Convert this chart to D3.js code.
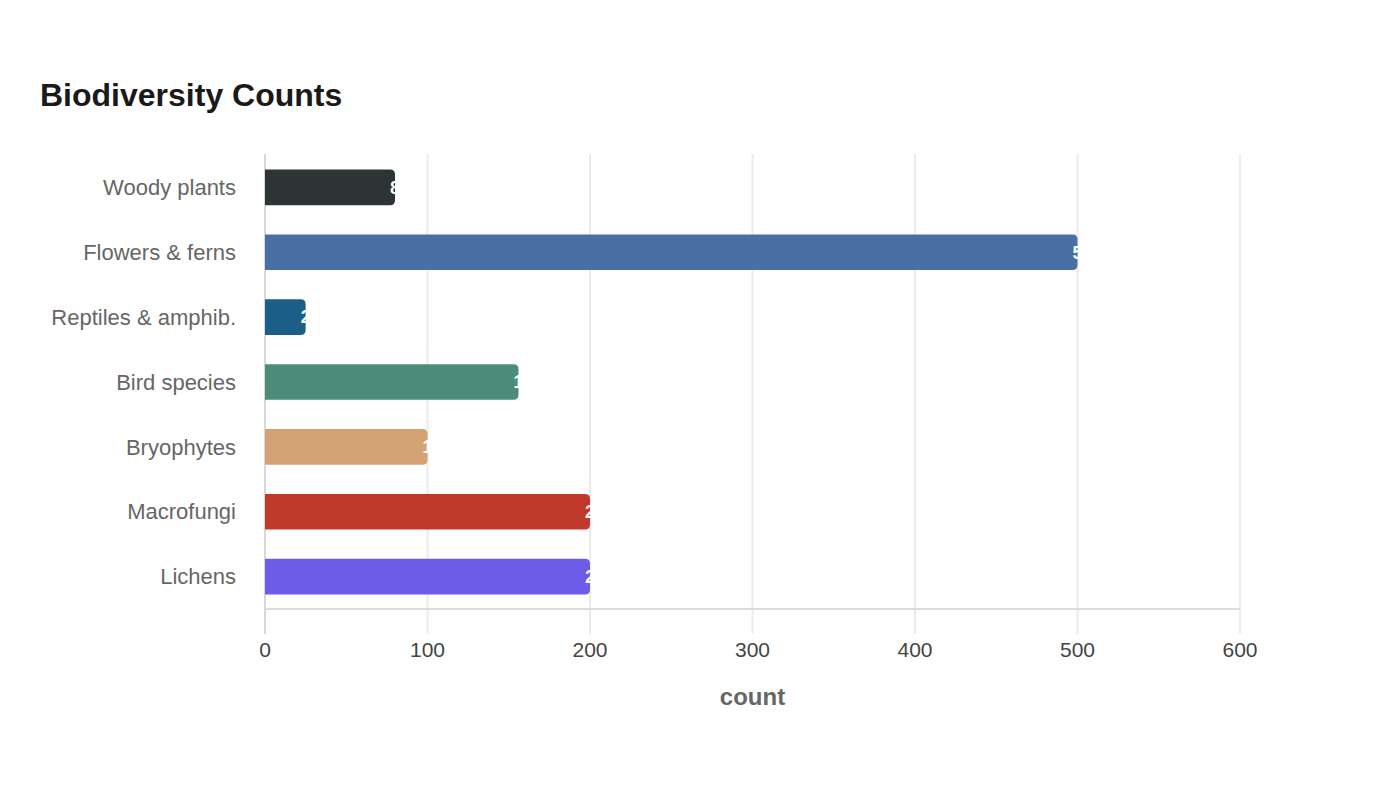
<!DOCTYPE html>
<html><head><meta charset="utf-8">
<script src="https://cdn.jsdelivr.net/npm/d3@7"></script>
<style>html,body{margin:0;padding:0;background:#fff;}svg{display:block;font-family:"Liberation Sans",Arial,sans-serif;}</style>
</head><body>
<svg id="chart" width="1400" height="800"></svg>
<script>
const categories = ["Woody plants","Flowers & ferns","Reptiles & amphib.","Bird species","Bryophytes","Macrofungi","Lichens"];
const counts = [80, 500, 25, 156, 100, 200, 200];
const colors = ["#2d3436","#4a6fa5","#1b5e87","#4e8c7a","#d4a373","#c0392b","#6c5ce7"];
const xTicks = [0,100,200,300,400,500,600];

const svg = d3.select("#chart");
const m = {left:265, right:160, top:155, bottom:191};
const W = 1400, H = 800;
const x = d3.scaleLinear().domain([0,600]).range([m.left, W - m.right]);
const y = d3.scaleBand().domain(categories).range([m.top, H - m.bottom]).padding(0.45).paddingOuter(0.225);

svg.append("text").attr("x",40).attr("y",106).text("Biodiversity Counts")
  .attr("font-size",32).attr("font-weight","bold").attr("fill","#1a1a1a");

// grid
svg.append("g").selectAll("line").data(xTicks).join("line")
  .attr("x1",d=>x(d)).attr("x2",d=>x(d)).attr("y1",m.top-1).attr("y2",H-m.bottom+25)
  .attr("stroke","#ebebeb").attr("stroke-width",2);

// axes lines
svg.append("line").attr("x1",x(0)).attr("x2",x(600)).attr("y1",H-m.bottom).attr("y2",H-m.bottom)
  .attr("stroke","#dcdcdc").attr("stroke-width",2);
svg.append("line").attr("x1",x(0)).attr("x2",x(0)).attr("y1",m.top-1).attr("y2",H-m.bottom+25)
  .attr("stroke","#d8d8d8").attr("stroke-width",2);

const data = categories.map((c,i)=>({c, v:counts[i], col:colors[i]}));
const r = 5;
svg.append("g").selectAll("path").data(data).join("path")
  .attr("fill",d=>d.col)
  .attr("d",d=>{
    const x0=x(0), x1=x(d.v), y0=y(d.c), h=y.bandwidth();
    const rr=Math.min(r,(x1-x0)/2);
    return `M${x0},${y0}H${x1-rr}Q${x1},${y0} ${x1},${y0+rr}V${y0+h-rr}Q${x1},${y0+h} ${x1-rr},${y0+h}H${x0}Z`;
  });

// value labels (white, start at bar end, mostly invisible on white)
svg.append("g").selectAll("text").data(data).join("text")
  .attr("x",d=>x(d.v)-5).attr("y",d=>y(d.c)+y.bandwidth()/2).attr("dy","0.35em")
  .attr("fill","#fff").attr("font-size",18).attr("font-weight","bold")
  .text(d=>d.v);

// category labels
svg.append("g").selectAll("text").data(data).join("text")
  .attr("x",236).attr("y",d=>y(d.c)+y.bandwidth()/2).attr("dy","0.35em")
  .attr("text-anchor","end").attr("font-size",22).attr("fill","#666")
  .text(d=>d.c);

// x tick labels
svg.append("g").selectAll("text").data(xTicks).join("text")
  .attr("x",d=>x(d)).attr("y",657).attr("text-anchor","middle")
  .attr("font-size",21).attr("fill","#444").text(d=>d);

svg.append("text").attr("x",(x(0)+x(600))/2).attr("y",705).attr("text-anchor","middle")
  .attr("font-size",24).attr("font-weight","bold").attr("fill","#666").text("count");
</script>
</body></html>
